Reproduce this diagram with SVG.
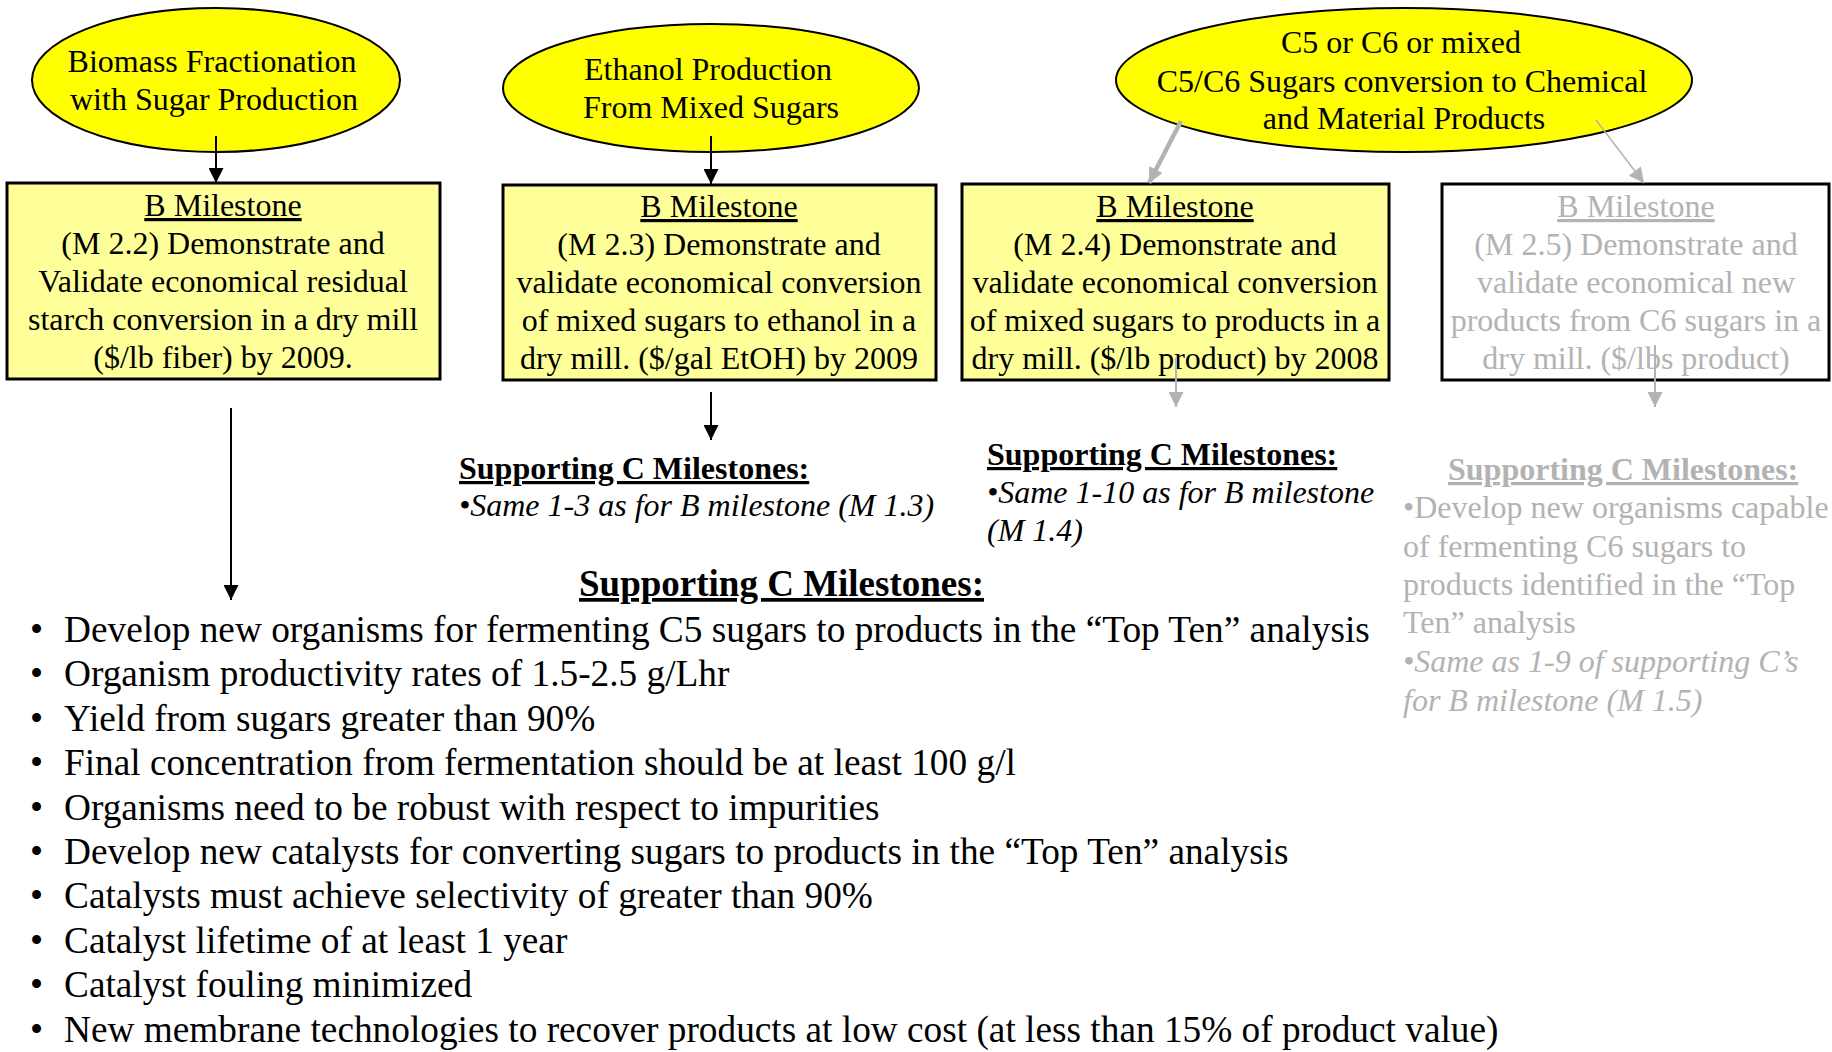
<svg xmlns="http://www.w3.org/2000/svg" width="1832" height="1052" viewBox="0 0 1832 1052">
<style>
text{font-family:"Liberation Serif","Times New Roman",serif;fill:#000}
.t{font-size:32px;text-anchor:middle}
.u{text-decoration:underline}
.h{font-size:32px;font-weight:bold;text-decoration:underline}
.it{font-size:32px;font-style:italic}
.r{font-size:32px}
.g{fill:#b3b3b3}
.ell{fill:#ffff00;stroke:#000;stroke-width:2}
.box{fill:#ffff99;stroke:#000;stroke-width:3}
.box4{fill:#fff;stroke:#000;stroke-width:3}
.cb{stroke:#000;stroke-width:2;fill:none}
.cg{stroke:#b3b3b3;stroke-width:2;fill:none}
.li{font-size:37.3px}
</style>
<defs>
<marker id="ab" viewBox="0 0 16 16" refX="16" refY="8" markerWidth="16" markerHeight="15" markerUnits="userSpaceOnUse" orient="auto"><path d="M0,0 L16,8 L0,16 z" fill="#000"/></marker>
<marker id="ag" viewBox="0 0 16 16" refX="16" refY="8" markerWidth="16" markerHeight="15" markerUnits="userSpaceOnUse" orient="auto"><path d="M0,0 L16,8 L0,16 z" fill="#b3b3b3"/></marker>
</defs>
<rect width="1832" height="1052" fill="#fff"/>

<g id="e1">
<ellipse class="ell" cx="216" cy="80" rx="184" ry="72"/>
<text class="t" x="212" y="72">Biomass Fractionation</text>
<text class="t" x="214" y="110">with Sugar Production</text>
</g>
<g id="e2">
<ellipse class="ell" cx="711" cy="88" rx="208" ry="64"/>
<text class="t" x="708" y="80">Ethanol Production</text>
<text class="t" x="711" y="118">From Mixed Sugars</text>
</g>
<g id="e3">
<ellipse class="ell" cx="1404" cy="80" rx="288" ry="72"/>
<text class="t" x="1401" y="53">C5 or C6 or mixed</text>
<text class="t" x="1402" y="92">C5/C6 Sugars conversion to Chemical</text>
<text class="t" x="1404" y="129">and Material Products</text>
</g>

<g id="b1">
<rect class="box" x="7" y="183" width="433" height="196"/>
<text class="t u" x="223" y="216">B Milestone</text>
<text class="t" x="223" y="254">(M 2.2) Demonstrate and</text>
<text class="t" x="223" y="292">Validate economical residual</text>
<text class="t" x="223" y="330">starch conversion in a dry mill</text>
<text class="t" x="223" y="368">($/lb fiber) by 2009.</text>
</g>
<g id="b2">
<rect class="box" x="503" y="185" width="433" height="195"/>
<text class="t u" x="719" y="217">B Milestone</text>
<text class="t" x="719" y="255">(M 2.3) Demonstrate and</text>
<text class="t" x="719" y="293">validate economical conversion</text>
<text class="t" x="719" y="331">of mixed sugars to ethanol in a</text>
<text class="t" x="719" y="369">dry mill. ($/gal EtOH) by 2009</text>
</g>
<g id="b3">
<rect class="box" x="962" y="184" width="427" height="196"/>
<text class="t u" x="1175" y="217">B Milestone</text>
<text class="t" x="1175" y="255">(M 2.4) Demonstrate and</text>
<text class="t" x="1175" y="293">validate economical conversion</text>
<text class="t" x="1175" y="331">of mixed sugars to products in a</text>
<text class="t" x="1175" y="369">dry mill. ($/lb product) by 2008</text>
</g>
<g id="b4">
<rect class="box4" x="1442" y="184" width="387" height="196"/>
<text class="t u g" x="1636" y="217">B Milestone</text>
<text class="t g" x="1636" y="255">(M 2.5) Demonstrate and</text>
<text class="t g" x="1636" y="293">validate economical new</text>
<text class="t g" x="1636" y="331">products from C6 sugars in a</text>
<text class="t g" x="1636" y="369">dry mill. ($/lbs product)</text>
</g>

<g id="c2">
<text class="h" x="459" y="479">Supporting C Milestones:</text>
<text class="it" x="459" y="516">•Same 1-3 as for B milestone (M 1.3)</text>
</g>
<g id="c3">
<text class="h" x="987" y="465">Supporting C Milestones:</text>
<text class="it" x="987" y="503">•Same 1-10 as for B milestone</text>
<text class="it" x="987" y="541">(M 1.4)</text>
</g>
<g id="c4">
<text class="h g" x="1448" y="480">Supporting C Milestones:</text>
<text class="r g" x="1403" y="518">•Develop new organisms capable</text>
<text class="r g" x="1403" y="557">of fermenting C6 sugars to</text>
<text class="r g" x="1403" y="595">products identified in the “Top</text>
<text class="r g" x="1403" y="633">Ten” analysis</text>
<text class="it g" x="1403" y="672">•Same as 1-9 of supporting C’s</text>
<text class="it g" x="1403" y="711">for B milestone (M 1.5)</text>
</g>
<g id="c1">
<text x="579" y="596" font-size="37" font-weight="bold" text-decoration="underline">Supporting C Milestones:</text>
<g class="li">
<text x="30" y="642">•</text><text x="64" y="642">Develop new organisms for fermenting C5 sugars to products in the “Top Ten” analysis</text>
<text x="30" y="686">•</text><text x="64" y="686">Organism productivity rates of 1.5-2.5 g/Lhr</text>
<text x="30" y="731">•</text><text x="64" y="731">Yield from sugars greater than 90%</text>
<text x="30" y="775">•</text><text x="64" y="775">Final concentration from fermentation should be at least 100 g/l</text>
<text x="30" y="820">•</text><text x="64" y="820">Organisms need to be robust with respect to impurities</text>
<text x="30" y="864">•</text><text x="64" y="864">Develop new catalysts for converting sugars to products in the “Top Ten” analysis</text>
<text x="30" y="908">•</text><text x="64" y="908">Catalysts must achieve selectivity of greater than 90%</text>
<text x="30" y="953">•</text><text x="64" y="953">Catalyst lifetime of at least 1 year</text>
<text x="30" y="997">•</text><text x="64" y="997">Catalyst fouling minimized</text>
<text x="30" y="1042">•</text><text x="64" y="1042">New membrane technologies to recover products at low cost (at less than 15% of product value)</text>
</g>
</g>

<g id="connectors">
<line class="cb" x1="216" y1="136" x2="216" y2="183" marker-end="url(#ab)"/>
<line class="cb" x1="711" y1="136" x2="711" y2="184" marker-end="url(#ab)"/>
<line class="cg" x1="1181" y1="121" x2="1149" y2="183" style="stroke-width:4.5" marker-end="url(#ag)"/>
<line class="cg" x1="1596" y1="120" x2="1644" y2="183" style="stroke-width:1.5" marker-end="url(#ag)"/>
<line class="cb" x1="231" y1="408" x2="231" y2="600" marker-end="url(#ab)"/>
<line class="cb" x1="711" y1="392" x2="711" y2="440" marker-end="url(#ab)"/>
<line class="cg" x1="1176" y1="358" x2="1176" y2="407" marker-end="url(#ag)"/>
<line class="cg" x1="1655" y1="345" x2="1655" y2="407" marker-end="url(#ag)"/>
</g>
</svg>
